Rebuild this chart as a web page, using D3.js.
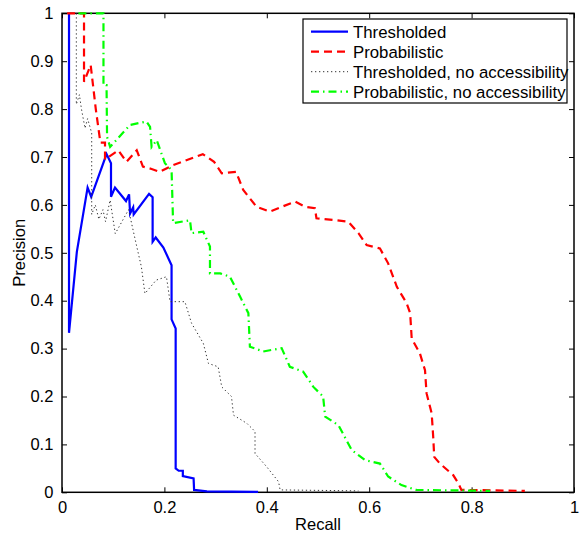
<!DOCTYPE html>
<html>
<head>
<meta charset="utf-8">
<script src="https://cdn.jsdelivr.net/npm/d3@7"></script>
<style>
  body { margin: 0; background: #fff; }
  svg text { font-family: "Liberation Sans", Arial, Helvetica, sans-serif; fill: #000; }
</style>
</head>
<body>
<div id="chart"></div>
<script>
// recall / precision pairs
var threshRecall    = [0.0137, 0.0137, 0.029, 0.050, 0.057, 0.087, 0.0957, 0.0957, 0.1035, 0.125, 0.131, 0.133, 0.139, 0.140, 0.170, 0.177, 0.177, 0.183, 0.198, 0.214, 0.214, 0.222, 0.222, 0.228, 0.236, 0.236, 0.257, 0.258, 0.283, 0.383];
var threshPrecision = [1.0, 0.333, 0.502, 0.636, 0.617, 0.706, 0.687, 0.617, 0.636, 0.608, 0.622, 0.582, 0.595, 0.580, 0.623, 0.616, 0.523, 0.532, 0.511, 0.474, 0.361, 0.342, 0.050, 0.045, 0.045, 0.034, 0.029, 0.005, 0.002, 0.001];

var probRecall    = [0.010, 0.043, 0.043, 0.056, 0.066, 0.075, 0.084, 0.084, 0.110, 0.126, 0.146, 0.158, 0.175, 0.191, 0.217, 0.275, 0.297, 0.312, 0.340, 0.354, 0.380, 0.406, 0.455, 0.475, 0.494, 0.497, 0.536, 0.559, 0.579, 0.595, 0.621, 0.637, 0.654, 0.673, 0.680, 0.683, 0.699, 0.709, 0.712, 0.722, 0.725, 0.727, 0.738, 0.764, 0.774, 0.780, 0.904];
var probPrecision = [1.0, 1.0, 0.857, 0.892, 0.800, 0.730, 0.730, 0.695, 0.714, 0.690, 0.714, 0.680, 0.675, 0.669, 0.683, 0.706, 0.690, 0.666, 0.669, 0.631, 0.596, 0.586, 0.607, 0.596, 0.593, 0.572, 0.568, 0.565, 0.541, 0.516, 0.509, 0.478, 0.429, 0.395, 0.374, 0.321, 0.290, 0.255, 0.207, 0.165, 0.116, 0.074, 0.060, 0.036, 0.019, 0.005, 0.003];

var threshNoAccRecall    = [0.028, 0.028, 0.034, 0.038, 0.045, 0.050, 0.058, 0.058, 0.065, 0.072, 0.080, 0.085, 0.094, 0.104, 0.130, 0.146, 0.155, 0.162, 0.184, 0.204, 0.211, 0.240, 0.253, 0.276, 0.286, 0.305, 0.312, 0.331, 0.335, 0.361, 0.377, 0.377, 0.400, 0.423, 0.426, 0.579];
var threshNoAccPrecision = [1.0, 0.810, 0.830, 0.800, 0.760, 0.780, 0.750, 0.580, 0.600, 0.570, 0.590, 0.565, 0.610, 0.540, 0.590, 0.513, 0.471, 0.415, 0.443, 0.450, 0.398, 0.398, 0.353, 0.311, 0.269, 0.262, 0.220, 0.200, 0.161, 0.144, 0.127, 0.081, 0.053, 0.022, 0.005, 0.003];

var probNoAccRecall    = [0.032, 0.081, 0.081, 0.087, 0.088, 0.094, 0.133, 0.165, 0.172, 0.175, 0.185, 0.201, 0.214, 0.217, 0.250, 0.253, 0.276, 0.289, 0.289, 0.309, 0.328, 0.348, 0.364, 0.367, 0.393, 0.429, 0.445, 0.471, 0.491, 0.510, 0.514, 0.540, 0.566, 0.592, 0.621, 0.637, 0.663, 0.692, 0.836];
var probNoAccPrecision = [1.0, 1.0, 0.850, 0.850, 0.742, 0.721, 0.767, 0.774, 0.763, 0.721, 0.735, 0.687, 0.673, 0.562, 0.568, 0.541, 0.544, 0.513, 0.457, 0.457, 0.450, 0.408, 0.374, 0.304, 0.294, 0.301, 0.262, 0.252, 0.220, 0.200, 0.158, 0.140, 0.088, 0.067, 0.060, 0.033, 0.015, 0.005, 0.003];

var seriesNames = ["Thresholded", "Probabilistic", "Thresholded, no accessibility", "Probabilistic, no accessibility"];
var xTicks = [0, 0.2, 0.4, 0.6, 0.8, 1];
var yTicks = [0, 0.1, 0.2, 0.3, 0.4, 0.5, 0.6, 0.7, 0.8, 0.9, 1];

var width = 584, height = 534;
var margin = {top: 13.3, right: 10, bottom: 41.7, left: 62};
var w = width - margin.left - margin.right;
var h = height - margin.top - margin.bottom;

var svg = d3.select("#chart").append("svg")
    .attr("width", width)
    .attr("height", height);

var g = svg.append("g")
    .attr("transform", "translate(" + margin.left + "," + margin.top + ")");

var x = d3.scaleLinear().domain([0, 1]).range([0, w]);
var y = d3.scaleLinear().domain([0, 1]).range([h, 0]);

var fmt = function(d) { return d === 0 || d === 1 ? String(d) : d3.format(".1f")(d); };

// axes, MATLAB style: ticks inside on all four sides
function styleAxis(sel) {
    sel.select(".domain").remove();
    sel.selectAll(".tick line").attr("stroke", "#000").attr("stroke-width", 1);
    sel.selectAll(".tick text").style("font-size", "16.5px");
}

g.append("g")
    .attr("transform", "translate(0," + h + ")")
    .call(d3.axisBottom(x).tickValues(xTicks).tickFormat(fmt).tickSize(-5).tickPadding(9))
    .call(styleAxis);
g.append("g")
    .call(d3.axisTop(x).tickValues(xTicks).tickFormat("").tickSize(-5))
    .call(styleAxis);
g.append("g")
    .call(d3.axisLeft(y).tickValues(yTicks).tickFormat(fmt).tickSize(-5).tickPadding(8.7))
    .call(styleAxis);
g.append("g")
    .attr("transform", "translate(" + w + ",0)")
    .call(d3.axisRight(y).tickValues(yTicks).tickFormat("").tickSize(-5))
    .call(styleAxis);

g.append("rect")
    .attr("width", w)
    .attr("height", h)
    .attr("fill", "none")
    .attr("stroke", "#000")
    .attr("stroke-width", 1.5);

var series = [
    {name: seriesNames[0], xs: threshRecall, ys: threshPrecision, color: "#0000ff", width: 2.2, dash: null},
    {name: seriesNames[1], xs: probRecall, ys: probPrecision, color: "#ff0000", width: 2.2, dash: "8,5"},
    {name: seriesNames[2], xs: threshNoAccRecall, ys: threshNoAccPrecision, color: "#333", width: 1, dash: "1.3,2.7"},
    {name: seriesNames[3], xs: probNoAccRecall, ys: probNoAccPrecision, color: "#00ff00", width: 2.2, dash: "8,4,1.5,4"}
];

var line = d3.line()
    .x(function(d) { return x(d[0]); })
    .y(function(d) { return y(d[1]); });

series.forEach(function(s) {
    var pts = d3.zip(s.xs, s.ys);
    g.append("path")
        .datum(pts)
        .attr("d", line)
        .attr("fill", "none")
        .attr("stroke", s.color)
        .attr("stroke-width", s.width)
        .attr("stroke-dasharray", s.dash)
        .attr("stroke-linejoin", "miter");
});

// axis titles
svg.append("text")
    .attr("x", margin.left + w / 2)
    .attr("y", 530)
    .attr("text-anchor", "middle")
    .style("font-size", "16.5px")
    .text("Recall");

svg.append("text")
    .attr("transform", "translate(25," + (margin.top + h / 2) + ") rotate(-90)")
    .attr("text-anchor", "middle")
    .style("font-size", "16.5px")
    .text("Precision");

// legend
var legend = svg.append("g").attr("transform", "translate(303,19)");
legend.append("rect")
    .attr("width", 264)
    .attr("height", 84)
    .attr("fill", "#fff")
    .attr("stroke", "#000")
    .attr("stroke-width", 1.2);

var rows = legend.selectAll("g.row").data(series).enter().append("g")
    .attr("class", "row")
    .attr("transform", function(d, i) { return "translate(0," + (12.7 + i * 20) + ")"; });

rows.append("line")
    .attr("x1", 8).attr("x2", 45)
    .attr("stroke", function(d) { return d.color; })
    .attr("stroke-width", function(d) { return d.width; })
    .attr("stroke-dasharray", function(d) { return d.dash; });

rows.append("text")
    .attr("x", 50)
    .attr("dy", "0.36em")
    .style("font-size", "16.8px")
    .text(function(d) { return d.name; });
</script>
</body>
</html>
